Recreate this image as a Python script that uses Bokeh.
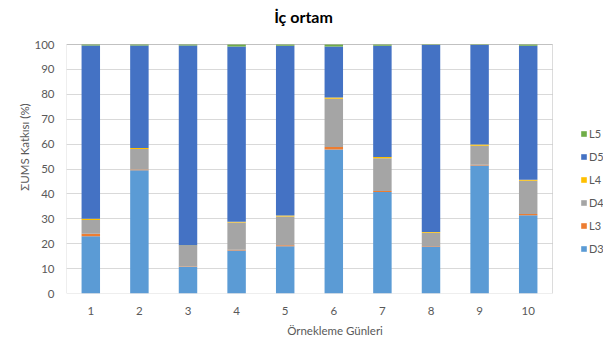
from bokeh.plotting import figure
from bokeh.models import (ColumnDataSource, Legend, LegendItem, FixedTicker, Label,
                          BoxAnnotation, Range1d, Grid)
from bokeh.embed import file_html
from bokeh.resources import INLINE

days = [1, 2, 3, 4, 5, 6, 7, 8, 9, 10]
day_labels = ["1", "2", "3", "4", "5", "6", "7", "8", "9", "10"]
D3 = [23.0, 49.5, 10.6, 17.3, 19.0, 57.8, 40.8, 18.9, 51.4, 31.4]
L3 = [1.0, 0.3, 0.2, 0.3, 0.4, 1.0, 0.4, 0.2, 0.3, 0.5]
D4 = [5.5, 8.2, 8.3, 10.9, 11.5, 19.4, 13.1, 5.3, 7.6, 13.4]
L4 = [0.5, 0.4, 0.2, 0.3, 0.4, 0.5, 0.5, 0.3, 0.5, 0.4]
D5 = [69.6, 41.2, 80.3, 70.4, 68.2, 20.5, 44.7, 75.1, 40.0, 53.8]
L5 = [0.4, 0.4, 0.4, 0.8, 0.5, 0.8, 0.5, 0.2, 0.2, 0.5]
y_ticks = [0, 10, 20, 30, 40, 50, 60, 70, 80, 90, 100]

series = ["D3", "L3", "D4", "L4", "D5", "L5"]
colors = ["#5B9BD5", "#ED7D31", "#A5A5A5", "#FFC000", "#4472C4", "#70AD47"]

src = ColumnDataSource(dict(x=days, D3=D3, L3=L3, D4=D4, L4=L4, D5=D5, L5=L5))

FONT = "Lato"
TXT = "#595959"

# layout geometry (pixels)
W, H = 603, 343
LEFT, BOTTOM = 66, 50
PLOT_W, PLOT_H = 486, 249          # visible plot area
x0, x1 = days[0] - 0.5, days[-1] + 0.5
y0, y1 = y_ticks[0], y_ticks[-1]
px_per_x = PLOT_W / (x1 - x0)
px_per_y = PLOT_H / (y1 - y0)
frame_w = W - LEFT
frame_h = H - BOTTOM

p = figure(width=W, height=H, output_backend="svg", toolbar_location=None,
           x_range=Range1d(x0, x0 + frame_w / px_per_x),
           y_range=Range1d(y0, y0 + frame_h / px_per_y),
           min_border_left=LEFT, min_border_right=0, min_border_top=0, min_border_bottom=BOTTOM)
p.outline_line_color = None

renderers = p.vbar_stack(series, x="x", width=0.38, source=src, color=colors, line_color=None)

# grid lines limited to plot area
p.xgrid.grid_line_color = None
p.ygrid.ticker = FixedTicker(ticks=y_ticks)
if "cross_bounds" in Grid.properties():
    p.ygrid.grid_line_color = "#D9D9D9"
    p.ygrid.cross_bounds = (x0, x1)
else:
    p.ygrid.grid_line_color = None
    p.segment(x0=[x0] * len(y_ticks), x1=[x1] * len(y_ticks), y0=y_ticks, y1=y_ticks,
              line_color="#D9D9D9", line_width=1, level="underlay")

# plot area border
p.add_layout(BoxAnnotation(left=x0, right=x1, bottom=y0, top=y1, fill_alpha=0,
                           line_color="#8C8C8C", line_width=1, level="overlay"))

p.xaxis.ticker = FixedTicker(ticks=days)
p.xaxis.major_label_overrides = {d: l for d, l in zip(days, day_labels)}
p.xaxis.bounds = (x0, x1)
p.yaxis.ticker = FixedTicker(ticks=y_ticks)
p.yaxis.bounds = (y0, y1)

for ax in (p.xaxis[0], p.yaxis[0]):
    ax.axis_line_color = None
    ax.major_tick_line_color = None
    ax.minor_tick_line_color = None
    ax.major_tick_out = 0
    ax.major_tick_in = 0
    ax.major_label_text_font = FONT
    ax.major_label_text_font_size = "11.5px"
    ax.major_label_text_color = TXT
    ax.axis_label_text_font = FONT
    ax.axis_label_text_font_size = "11.5px"
    ax.axis_label_text_font_style = "normal"
    ax.axis_label_text_color = TXT

p.xaxis.axis_label = "Örnekleme Günleri"
p.xaxis.major_label_standoff = 13
p.xaxis.axis_label_standoff = 6
p.yaxis.axis_label = "ΣUMS Katkısı (%)"
p.yaxis.major_label_standoff = 12
p.yaxis.axis_label_standoff = 0

title = Label(x=(x0 + x1) / 2, y=y1, x_offset=-6, y_offset=28, text="İç ortam",
              text_font=FONT, text_font_size="16px", text_font_style="bold",
              text_color="#000000", text_align="center", text_baseline="middle")
p.add_layout(title)

items = [LegendItem(label=s, renderers=[r]) for s, r in zip(series, renderers)][::-1]
legend = Legend(items=items, location=(514, 38), orientation="vertical",
                glyph_width=7, glyph_height=7, label_height=14, spacing=9,
                label_standoff=2, padding=0, margin=0,
                label_text_font=FONT, label_text_font_size="11px", label_text_color=TXT,
                border_line_color=None, background_fill_alpha=0)
p.add_layout(legend, "center")

open("out.html", "w").write(file_html(p, INLINE))
